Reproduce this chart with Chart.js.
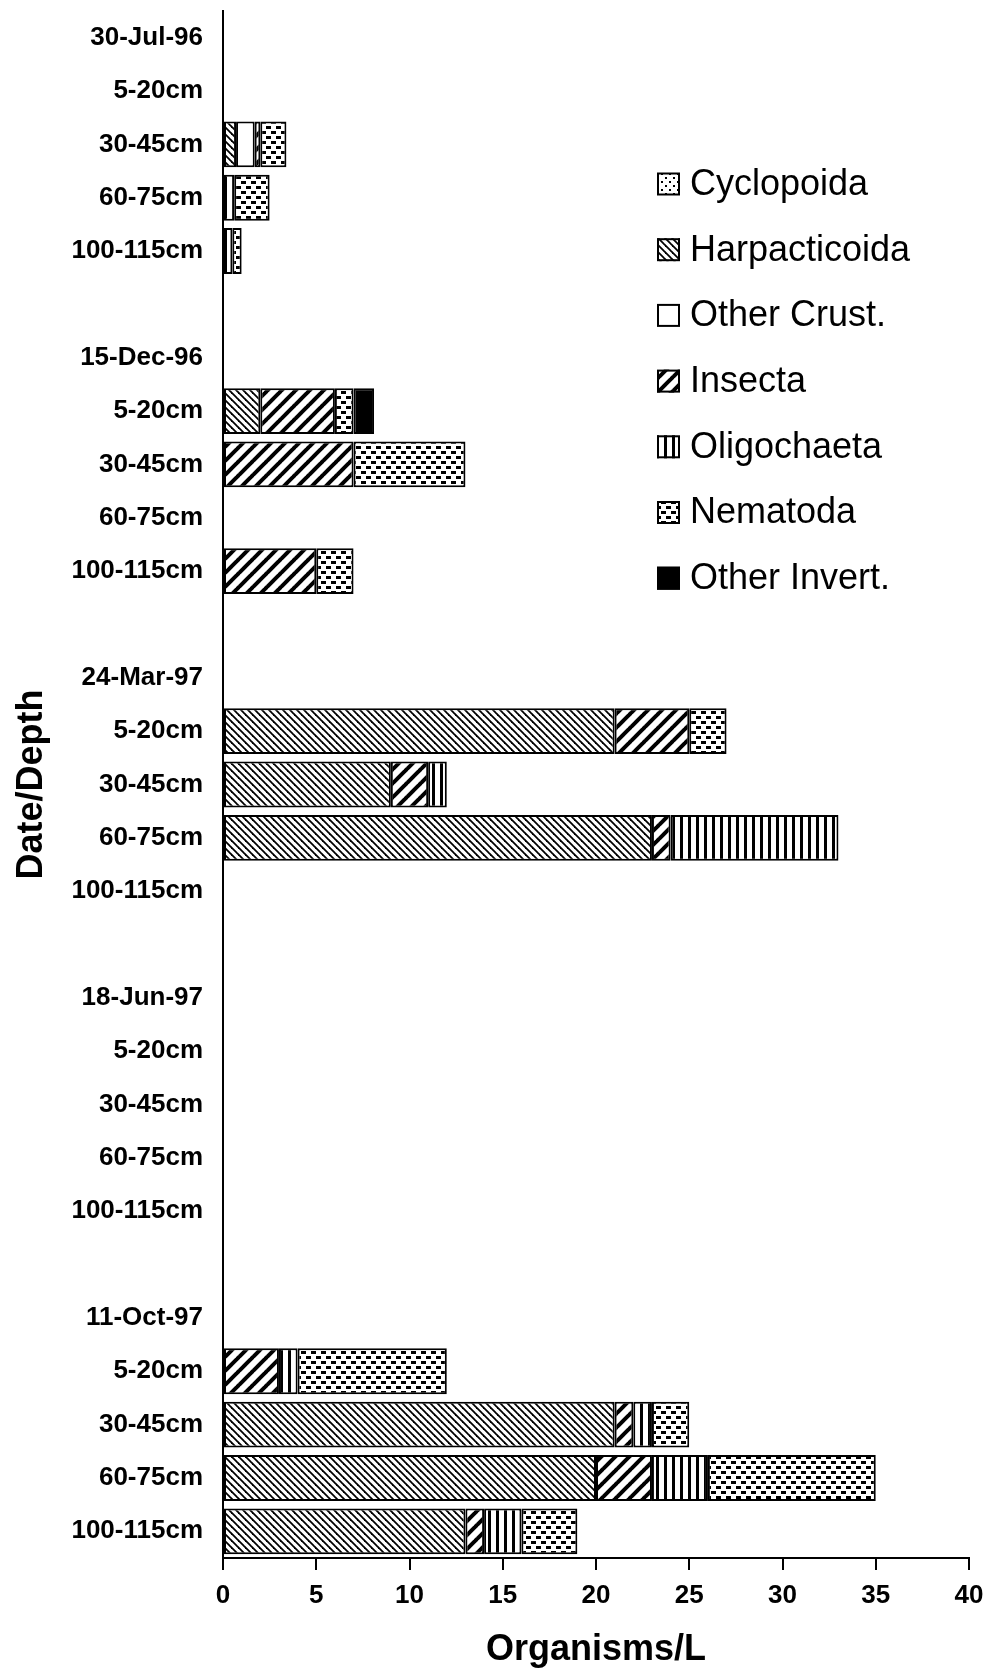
<!DOCTYPE html>
<html>
<head>
<meta charset="utf-8">
<script src="https://cdn.jsdelivr.net/npm/chart.js@4.4.0/dist/chart.umd.min.js"></script>
<style>
html,body{margin:0;padding:0;background:#fff;}
#wrap{position:relative;width:995px;height:1680px;}
</style>
</head>
<body>
<div id="wrap"><canvas id="c" width="995" height="1680"></canvas></div>
<script>
// ---- data ----
const categories = [
  '30-Jul-96','5-20cm','30-45cm','60-75cm','100-115cm','',
  '15-Dec-96','5-20cm','30-45cm','60-75cm','100-115cm','',
  '24-Mar-97','5-20cm','30-45cm','60-75cm','100-115cm','',
  '18-Jun-97','5-20cm','30-45cm','60-75cm','100-115cm','',
  '11-Oct-97','5-20cm','30-45cm','60-75cm','100-115cm'
];
const seriesNames = ['Cyclopoida','Harpacticoida','Other Crust.','Insecta','Oligochaeta','Nematoda','Other Invert.'];
const cyclopoida  = [0,0,0,0,0,0, 0,0,0,0,0,0, 0,0,0,0,0,0, 0,0,0,0,0,0, 0,0,0,0,0];
const harpacticoida = [0,0,0.7,0,0,0, 0,2,0,0,0,0, 0,21,9,23,0,0, 0,0,0,0,0,0, 0,0,21,20,13];
const otherCrust  = [0,0,1.0,0,0,0, 0,0,0,0,0,0, 0,0,0,0,0,0, 0,0,0,0,0,0, 0,0,0,0,0];
const insecta     = [0,0,0.3,0,0,0, 0,4,7,0,5,0, 0,4,2,1,0,0, 0,0,0,0,0,0, 0,3,1,3,1];
const oligochaeta = [0,0,0,0.6,0.5,0, 0,0,0,0,0,0, 0,0,1,9,0,0, 0,0,0,0,0,0, 0,1,1,3,2];
const nematoda    = [0,0,1.4,1.9,0.5,0, 0,1,6,0,2,0, 0,2,0,0,0,0, 0,0,0,0,0,0, 0,8,2,9,3];
const otherInvert = [0,0,0,0,0,0, 0,1.1,0,0,0,0, 0,0,0,0,0,0, 0,0,0,0,0,0, 0,0,0,0,0];
const xTickValues = [0,5,10,15,20,25,30,35,40];
const xTitle = 'Organisms/L';
const yTitle = 'Date/Depth';

// ---- patterns ----
function tile(w,h,draw){
  const c=document.createElement('canvas');c.width=w;c.height=h;
  const g=c.getContext('2d');g.fillStyle='#fff';g.fillRect(0,0,w,h);
  g.fillStyle='#000';g.strokeStyle='#000';draw(g,w,h);
  return document.getElementById('c').getContext('2d').createPattern(c,'repeat');
}
const patterns = {
  cyclo: tile(8,8,(g)=>{g.fillRect(1,1,2,2);g.fillRect(5,5,2,2);}),
  harp: tile(7,7,(g,w)=>{g.lineWidth=1.8;for(let k=-1;k<=1;k++){g.beginPath();g.moveTo(k*w-1,-1);g.lineTo(k*w+w+1,w+1);g.stroke();}}),
  crust: '#ffffff',
  insect: tile(14,14,(g,w)=>{g.lineWidth=4;for(let k=0;k<=2;k++){g.beginPath();g.moveTo(k*w+1,-1);g.lineTo(k*w-w-1,w+1);g.stroke();}}),
  oligo: tile(8,4,(g)=>{g.fillRect(0,0,3,4);}),
  nema: tile(10,10,(g)=>{g.fillRect(1,1,5,3);g.fillRect(6,6,4,3);g.fillRect(0,6,1,3);}),
  invert: '#000000'
};

const seriesData = [cyclopoida,harpacticoida,otherCrust,insecta,oligochaeta,nematoda,otherInvert];
const seriesFill = [patterns.cyclo,patterns.harp,patterns.crust,patterns.insect,patterns.oligo,patterns.nema,patterns.invert];

const datasets = seriesNames.map((n,i)=>({
  label:n,
  data:seriesData[i],
  backgroundColor:seriesFill[i],
  borderColor:'#000',
  borderWidth:2,
  borderSkipped:false,
  categoryPercentage:1,
  barPercentage:0.86
}));

const FONT='"Liberation Sans", Arial, sans-serif';

const legendPlugin = {
  id:'customLegend',
  afterDraw(chart){
    const ctx=chart.ctx;
    const x0=657, size=23, textX=690, y0=184, dy=65.7;
    ctx.save();
    seriesNames.forEach((n,i)=>{
      const cy=y0+i*dy;
      ctx.fillStyle=seriesFill[i];
      ctx.fillRect(x0,cy-size/2,size,size);
      ctx.lineWidth=2;ctx.strokeStyle='#000';
      ctx.strokeRect(x0+1,cy-size/2+1,size-2,size-2);
      ctx.fillStyle='#000';
      ctx.font='36px '+FONT;
      ctx.textBaseline='middle';ctx.textAlign='left';
      ctx.fillText(n,textX,cy+1);
    });
    ctx.restore();
  }
};

new Chart(document.getElementById('c'),{
  type:'bar',
  data:{labels:categories,datasets},
  options:{
    indexAxis:'y',
    responsive:false,
    animation:false,
    layout:{padding:{top:11,right:26,left:0,bottom:0}},
    plugins:{legend:{display:false},tooltip:{enabled:false}},
    scales:{
      x:{
        type:'linear',stacked:true,min:0,max:40,
        afterBuildTicks(s){s.ticks=xTickValues.map(v=>({value:v}));},
        afterFit(s){s.height=122;s.paddingLeft=0;s.paddingRight=0;},
        grid:{display:true,drawOnChartArea:false,drawTicks:true,tickLength:12,color:'#000',lineWidth:2},
        border:{display:true,color:'#000',width:2},
        ticks:{color:'#000',padding:10,font:{family:FONT,size:26,weight:'bold'}},
        title:{display:true,text:xTitle,color:'#000',padding:{top:0,bottom:8},font:{family:FONT,size:36,weight:'bold'}}
      },
      y:{
        type:'category',stacked:true,
        afterFit(s){s.width=223;s.paddingTop=0;s.paddingBottom=0;},
        grid:{display:false,drawTicks:false},
        border:{display:true,color:'#000',width:2},
        ticks:{color:'#000',padding:20,autoSkip:false,font:{family:FONT,size:26,weight:'bold'}},
        title:{display:true,text:yTitle,color:'#000',padding:{top:10,bottom:0},font:{family:FONT,size:36,weight:'bold'}}
      }
    }
  },
  plugins:[legendPlugin]
});
</script>
</body>
</html>
